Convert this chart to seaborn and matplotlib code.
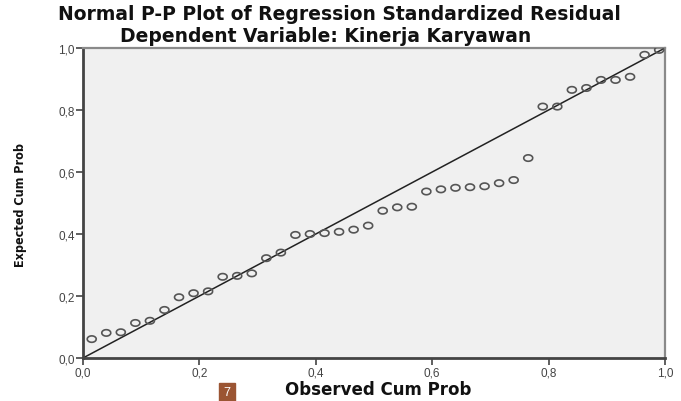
import numpy as np
import pandas as pd
import matplotlib
matplotlib.use("Agg")
import matplotlib.pyplot as plt
from matplotlib.patches import Rectangle
import seaborn as sns

# observed vs expected cumulative probabilities
observed = [0.015, 0.040, 0.065, 0.090, 0.115, 0.140, 0.165, 0.190, 0.215, 0.240,
            0.265, 0.290, 0.315, 0.340, 0.365, 0.390, 0.415, 0.440, 0.465, 0.490,
            0.515, 0.540, 0.565, 0.590, 0.615, 0.640, 0.665, 0.690, 0.715, 0.740,
            0.765, 0.790, 0.815, 0.840, 0.865, 0.890, 0.915, 0.940, 0.965, 0.990]
expected = [0.061, 0.081, 0.083, 0.113, 0.120, 0.155, 0.196, 0.209, 0.215, 0.262,
            0.265, 0.273, 0.322, 0.340, 0.397, 0.400, 0.403, 0.407, 0.414, 0.427,
            0.475, 0.486, 0.488, 0.537, 0.544, 0.549, 0.551, 0.554, 0.564, 0.574,
            0.645, 0.811, 0.811, 0.865, 0.871, 0.897, 0.897, 0.907, 0.978, 0.994]
ref_line = [0.0, 1.0]
ticks = [0.0, 0.2, 0.4, 0.6, 0.8, 1.0]
tick_labels = ["0,0", "0,2", "0,4", "0,6", "0,8", "1,0"]

title1 = "Normal P-P Plot of Regression Standardized Residual"
title2 = "Dependent Variable: Kinerja Karyawan"

df = pd.DataFrame({"obs": observed, "exp": expected})

sns.set_style("white")
plt.rcParams["font.family"] = ["Liberation Sans", "DejaVu Sans"]

fig = plt.figure(figsize=(6.81, 4.02), dpi=100)
ax = fig.add_axes([83 / 681, 1 - 359 / 402, 582 / 681, 310 / 402])
ax.set_facecolor("#f0f0f0")

# slightly wide ellipse marker, like the stretched screenshot
t = np.linspace(0, 2 * np.pi, 40)
ellipse = list(zip(1.4 * np.cos(t), np.sin(t)))

ax.plot(ref_line, ref_line, color="#222222", lw=1.1, zorder=2)
sns.scatterplot(data=df, x="obs", y="exp", ax=ax, marker=ellipse, s=42,
                facecolor="none", edgecolor="#555555", linewidth=1.2, zorder=3)

ax.set_xlim(0, 1)
ax.set_ylim(0, 1)
ax.set_xticks(ticks)
ax.set_xticklabels(tick_labels)
ax.set_yticks(ticks)
ax.set_yticklabels(tick_labels)
ax.tick_params(axis="both", direction="out", length=5, width=1.2, color="#444444",
               labelsize=8.5, labelcolor="#444444", pad=1)
ax.tick_params(bottom=True, left=True)
ax.set_xlabel("")
ax.set_ylabel("")

for side in ["left", "bottom"]:
    ax.spines[side].set_color("#444444")
    ax.spines[side].set_linewidth(2)
for side in ["top", "right"]:
    ax.spines[side].set_color("#8a8a8a")
    ax.spines[side].set_linewidth(1.6)

wide = ["DejaVu Sans"]
fig.text(339 / 681, 1 - 15 / 402, title1, ha="center", va="center",
         fontsize=13.5, fontweight="bold", color="#111111", family=wide)
fig.text(326 / 681, 1 - 37 / 402, title2, ha="center", va="center",
         fontsize=13.5, fontweight="bold", color="#111111", family=wide)
fig.text(378 / 681, 1 - 390 / 402, "Observed Cum Prob", ha="center", va="center",
         fontsize=12, fontweight="bold", color="#111111", family=wide)
fig.text(21 / 681, 1 - 205 / 402, "Expected Cum Prob", ha="center", va="center",
         rotation=90, fontsize=9, fontweight="bold", fontstretch="condensed",
         color="#111111", family=["DejaVu Sans"])

# page number badge at the bottom
fig.patches.append(Rectangle((219 / 681, 0), 16 / 681, 18 / 402,
                             transform=fig.transFigure, color="#9b5533"))
fig.text(227 / 681, 1 - 393 / 402, "7", ha="center", va="center",
         fontsize=9, color="white")

fig.savefig("out.png", dpi=100)
